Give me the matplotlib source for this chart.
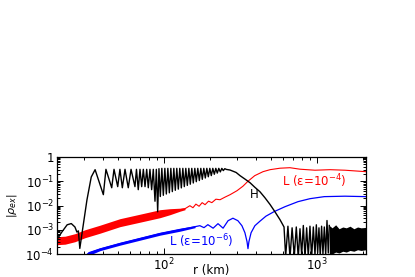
import matplotlib
matplotlib.use("Agg")
import matplotlib.pyplot as plt
from matplotlib.ticker import FixedLocator, FixedFormatter, NullFormatter

plt.rcParams['font.family'] = ['DejaVu Sans']
plt.rcParams['mathtext.fontset'] = 'dejavusans'

# ---------------- data ----------------
# H (black): rise, oscillation region, decline, late noisy tail
h_r = [20, 21.5, 23.3, 24.8, 26.2, 27.0, 27.6, 28.2, 29.2, 31.4, 33.5, 35.5,
       40.2, 41.8, 45.6, 47.2, 49.9, 51.6, 53.5, 55.7, 58.5, 61.0, 64.7, 66.2,
       68.0, 69.8, 71.6, 73.4, 75.3, 77.2, 79.1, 81.1, 83.2, 85.3, 87.5, 89.3,
       91.1, 92.9,
       94.8, 97.0, 99.2, 101.5, 103.8, 106.2, 108.6, 111.1, 113.6, 116.2,
       118.8, 121.5, 124.3, 127.1, 130.1, 133.1, 136.1, 139.2, 142.4, 145.7,
       148.9, 152.3, 155.8, 159.4, 163.0, 166.7, 170.6, 174.5, 178.4, 182.5,
       186.7, 191.0, 195.3, 199.8, 204.3, 209.0, 213.8, 218.7, 223.6, 228.7,
       234.0, 239.4, 244.8, 250.4, 256.1,
       271, 297, 315, 341, 366, 393, 425, 458, 495, 533, 575, 611,
       626, 648, 668.5, 690, 713, 735, 757, 777, 797, 817, 838, 859, 880, 903,
       926, 950, 974, 994, 1014, 1034, 1054, 1076, 1098, 1121, 1144, 1167,
       1190, 1208]
h_v = [4e-4, 8e-4, 1.6e-3, 1.8e-3, 1.3e-3, 8e-4, 9e-4, 1.7e-4, 7.6e-4, 0.017, 0.15, 0.30,
       0.028, 0.31, 0.054, 0.31, 0.06, 0.31, 0.054, 0.31, 0.054, 0.31, 0.06, 0.31,
       0.045, 0.31, 0.06, 0.31, 0.06, 0.31, 0.054, 0.31, 0.045, 0.31, 0.015, 0.31,
       0.0055, 0.33,
       0.0235, 0.34, 0.0263, 0.34, 0.0298, 0.34, 0.0334, 0.34, 0.0374, 0.34,
       0.0423, 0.34, 0.0474, 0.34, 0.0532, 0.34, 0.0601, 0.34, 0.0674, 0.34,
       0.0755, 0.34, 0.0847, 0.34, 0.0958, 0.34, 0.107, 0.34, 0.120, 0.34,
       0.136, 0.34, 0.153, 0.34, 0.171, 0.34, 0.194, 0.34, 0.217, 0.34,
       0.243, 0.34, 0.275, 0.33, 0.308,
       0.29, 0.23, 0.17, 0.12, 0.087, 0.057, 0.037, 0.021, 0.011, 0.0055, 0.0026, 0.0013,
       8e-5, 1.4e-3, 7e-5, 1.2e-3, 8e-5, 1.3e-3, 7e-5, 1.1e-3, 9e-5, 1.5e-3, 7e-5, 1.2e-3,
       8e-5, 1.4e-3, 7e-5, 1.3e-3, 9e-5, 1.6e-3, 1.1e-4, 1.2e-3, 8e-5, 1.4e-3,
       1.0e-4, 1.3e-3, 9e-5, 2.4e-3, 1.1e-4, 1.5e-3]
# dense unresolved tail of H
h_tail_r = [1208, 1260, 1330, 1400, 1480, 1560, 1650, 1750, 1850, 1950, 2100]
h_tail_hi = [1.5e-3, 1.2e-3, 1.6e-3, 1.1e-3, 1.3e-3, 1.2e-3, 1.4e-3, 1.1e-3, 1.3e-3, 1.2e-3, 1.25e-3]
h_tail_lo = [9e-5, 1.0e-4, 1.2e-4, 1.1e-4, 1.3e-4, 1.2e-4, 1.4e-4, 1.3e-4, 1.5e-4, 1.4e-4, 1.5e-4]

# L, eps = 1e-4 (red): noisy band then smooth curve
red_band_r = [20, 22.6, 26.2, 30.5, 38.2, 51.6, 69.8, 94.3, 109.7, 127.5, 137.5]
red_band_hi = [5.17e-4, 5.42e-4, 6.87e-4, 1.0e-3, 1.54e-3, 2.86e-3, 4.38e-3, 6.71e-3, 7.38e-3, 7.74e-3, 8.1e-3]
red_band_lo = [2.42e-4, 2.54e-4, 3.21e-4, 4.7e-4, 7.2e-4, 1.34e-3, 2.05e-3, 3.14e-3, 4.18e-3, 5.82e-3, 6.71e-3]
red_r = [20, 22.6, 26.2, 30.5, 38.2, 51.6, 69.8, 94.3, 109.7, 127.5, 137.5,
         148, 155, 162, 170, 178, 186, 196, 206, 219, 233, 251, 271, 301, 329,
         355, 393, 445, 495, 575, 668, 777, 974, 1221, 1530, 2100]
red_v = [3.53e-4, 3.71e-4, 4.7e-4, 6.87e-4, 1.05e-3, 1.95e-3, 2.99e-3, 4.59e-3, 5.55e-3, 6.71e-3, 7.38e-3,
         9.8e-3, 8.1e-3, 0.0114, 9.3e-3, 0.0131, 0.0108, 0.0151, 0.0131, 0.0182, 0.0173, 0.0221, 0.0279,
         0.0408, 0.0624, 0.10, 0.17, 0.248, 0.30, 0.345, 0.362, 0.314, 0.285, 0.30, 0.285, 0.248]

# L, eps = 1e-6 (blue)
blue_band_r = [31.8, 38.2, 51.6, 69.8, 94.3, 127.5, 160]
blue_band_hi = [1.24e-4, 1.82e-4, 3.07e-4, 4.93e-4, 7.92e-4, 1.16e-3, 1.47e-3]
blue_band_lo = [8.4e-5, 1.37e-4, 2.31e-4, 3.71e-4, 5.96e-4, 8.71e-4, 1.22e-3]
blue_r = [31.8, 38.2, 51.6, 69.8, 94.3, 127.5, 160, 172, 183, 194, 210, 226, 244, 263,
          283, 305, 324, 339, 350, 355, 360, 372, 394, 425, 465, 525, 620, 754, 903,
          1120, 1530, 2100]
blue_v = [1.03e-4, 1.58e-4, 2.66e-4, 4.28e-4, 6.87e-4, 1.0e-3, 1.34e-3, 1.47e-3, 1.22e-3, 1.62e-3,
          1.16e-3, 1.78e-3, 1.16e-3, 2.36e-3, 2.99e-3, 2.36e-3, 1.47e-3, 7.55e-4, 3.21e-4, 1.66e-4,
          3.21e-4, 7.55e-4, 1.47e-3, 2.25e-3, 3.62e-3, 5.55e-3, 8.93e-3, 0.0144, 0.0191,
          0.0232, 0.0242, 0.0232]

y_ticks = [1e-4, 1e-3, 1e-2, 1e-1, 1]
y_ticklabels = ['10$^{-4}$', '10$^{-3}$', '10$^{-2}$', '10$^{-1}$', '1']
x_ticks = [100, 1000]
x_ticklabels = ['10$^{2}$', '10$^{3}$']

# ---------------- figure ----------------
fig = plt.figure(figsize=(4.15, 2.77), dpi=100)
ax = fig.add_axes([57/415, 1 - 254/277, (366 - 57)/415, (254 - 157)/277])
ax.set_xscale('log')
ax.set_yscale('log')

ax.fill_between(red_band_r, red_band_lo, red_band_hi, color='#ff0000', lw=0)
ax.plot(red_r, red_v, color='#ff0000', lw=0.8)
ax.fill_between(blue_band_r, blue_band_lo, blue_band_hi, color='#0000ff', lw=0)
ax.plot(blue_r, blue_v, color='#0000ff', lw=0.9)
ax.plot(h_r, h_v, color='black', lw=1.0)
ax.fill_between(h_tail_r, h_tail_lo, h_tail_hi, color='black', lw=0)

ax.set_xlim(20, 2100)
ax.set_ylim(1e-4, 1)

ax.yaxis.set_major_locator(FixedLocator(y_ticks))
ax.yaxis.set_major_formatter(FixedFormatter(y_ticklabels))
ax.yaxis.set_minor_locator(FixedLocator([m * 10.0**e for e in range(-4, 0) for m in range(2, 10)]))
ax.yaxis.set_minor_formatter(NullFormatter())
ax.xaxis.set_major_locator(FixedLocator(x_ticks))
ax.xaxis.set_major_formatter(FixedFormatter(x_ticklabels))
ax.xaxis.set_minor_locator(FixedLocator([m * 10.0**e for e in range(1, 4) for m in range(2, 10)]))
ax.xaxis.set_minor_formatter(NullFormatter())

ax.tick_params(which='both', direction='in', top=True, right=True, labelsize=8.5, width=0.7)
ax.tick_params(which='major', length=4, pad=2)
ax.tick_params(which='minor', length=2)
for s in ax.spines.values():
    s.set_linewidth(0.9)

ax.set_xlabel('r (km)', fontsize=8.5, va='center')
ax.xaxis.set_label_coords(0.5, -0.17)
ax.set_ylabel(r'$|\rho_{ex}|$', fontsize=8, labelpad=5)

ax.text(958, 0.105, 'L (ε=10$^{-4}$)', color='#ff0000', fontsize=8.5, ha='center', va='center')
ax.text(175, 3.4e-4, 'L (ε=10$^{-6}$)', color='#0000ff', fontsize=8.5, ha='center', va='center')
ax.text(389, 0.028, 'H', color='black', fontsize=8.5, ha='center', va='center')

fig.savefig('out.png', dpi=100)
